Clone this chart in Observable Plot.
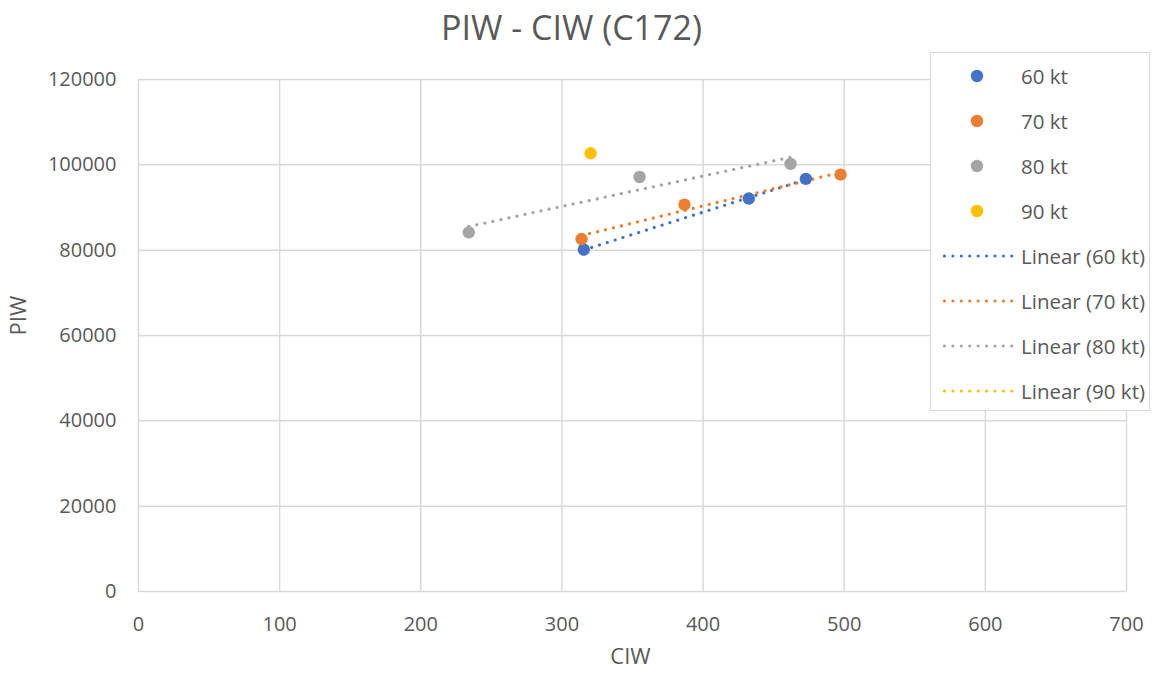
<!DOCTYPE html>
<html>
<head>
<meta charset="utf-8">
<script src="https://cdn.jsdelivr.net/npm/d3@7"></script>
<script src="https://cdn.jsdelivr.net/npm/@observablehq/plot@0.6"></script>
<style>
  html, body { margin: 0; padding: 0; background: #fff; }
  body { width: 1159px; height: 677px; position: relative; overflow: hidden; font-family: "Open Sans", sans-serif; color: #595959; }
  #title { height: 55px; line-height: 55px; text-align: center; font-size: 34px; color: #595959; padding-right: 16px; }
  #legend { position: absolute; left: 930px; top: 52px; width: 220px; height: 359px; background: #fff; border: 1px solid #d9d9d9; box-sizing: border-box; }
  .item { position: absolute; left: 0; height: 24px; font-size: 20.5px; line-height: 24px; }
  .item svg { position: absolute; left: 12px; top: 0; }
  .item span { position: absolute; left: 90px; white-space: nowrap; }
</style>
</head>
<body>
<div id="title">PIW - CIW (C172)</div>
<div id="chart"></div>
<div id="legend"></div>
<script>
const seriesNames = ["60 kt", "70 kt", "80 kt", "90 kt"];
const seriesColors = ["#4472C4", "#ED7D31", "#A5A5A5", "#FFC000"];

const ciw60 = [315.5, 432.4, 472.8];
const piw60 = [80100, 92100, 96700];
const ciw70 = [313.9, 386.8, 497.4];
const piw70 = [82600, 90650, 97700];
const ciw80 = [234.0, 355.0, 462.0];
const piw80 = [84150, 97150, 100200];
const ciw90 = [320.3];
const piw90 = [102700];

const xTicks = [0, 100, 200, 300, 400, 500, 600, 700];
const yTicks = [0, 20000, 40000, 60000, 80000, 100000, 120000];
const xLabel = "CIW";
const yLabel = "PIW";

const groups = [[ciw60, piw60], [ciw70, piw70], [ciw80, piw80], [ciw90, piw90]];
const data = [];
groups.forEach(([xs, ys], i) => xs.forEach((x, j) => data.push({series: seriesNames[i], ciw: x, piw: ys[j]})));
const trendData = data.filter(d => d.series !== "90 kt");

const chart = Plot.plot({
  width: 1159,
  height: 622,
  marginTop: 24,
  marginBottom: 86,
  marginLeft: 138,
  marginRight: 33,
  style: {fontFamily: "Open Sans, sans-serif", fontSize: "20px", color: "#595959", background: "#fff"},
  x: {domain: [0, 700], ticks: xTicks, tickSize: 0, tickPadding: 25, label: null, tickFormat: d => String(d)},
  y: {domain: [0, 120000], ticks: yTicks, tickSize: 0, tickPadding: 22, label: null, tickFormat: d => String(d)},
  color: {domain: seriesNames, range: seriesColors},
  marks: [
    Plot.ruleX(xTicks, {stroke: "#d9d9d9", strokeWidth: 1.5}),
    Plot.ruleY(yTicks, {stroke: "#d9d9d9", strokeWidth: 1.5}),
    Plot.linearRegressionY(trendData, {x: "ciw", y: "piw", stroke: "series", ci: 0, strokeWidth: 3.2, strokeDasharray: "0.01 8.2", strokeLinecap: "round"}),
    Plot.dot(data, {x: "ciw", y: "piw", fill: "series", r: 6.2}),
    Plot.text([xLabel], {frameAnchor: "bottom", dy: 72, dx: -2, fontSize: 22, fill: "#595959"}),
    Plot.text([yLabel], {frameAnchor: "left", dx: -120, rotate: -90, fontSize: 22, fill: "#595959"})
  ]
});
document.getElementById("chart").appendChild(chart);

// Legend
const legend = document.getElementById("legend");
const items = [];
seriesNames.forEach((s, i) => items.push({type: "dot", color: seriesColors[i], label: s}));
seriesNames.forEach((s, i) => items.push({type: "line", color: seriesColors[i], label: `Linear (${s})`}));
items.forEach((it, k) => {
  const div = document.createElement("div");
  div.className = "item";
  div.style.top = (11 + k * 45) + "px";
  const sw = it.type === "dot"
    ? `<svg width="72" height="24"><circle cx="34" cy="12" r="6.2" fill="${it.color}"/></svg>`
    : `<svg width="72" height="24"><line x1="1.5" y1="12" x2="70" y2="12" stroke="${it.color}" stroke-width="3.2" stroke-dasharray="0.01 8.4" stroke-linecap="round"/></svg>`;
  div.innerHTML = sw + `<span>${it.label}</span>`;
  legend.appendChild(div);
});
</script>
</body>
</html>
